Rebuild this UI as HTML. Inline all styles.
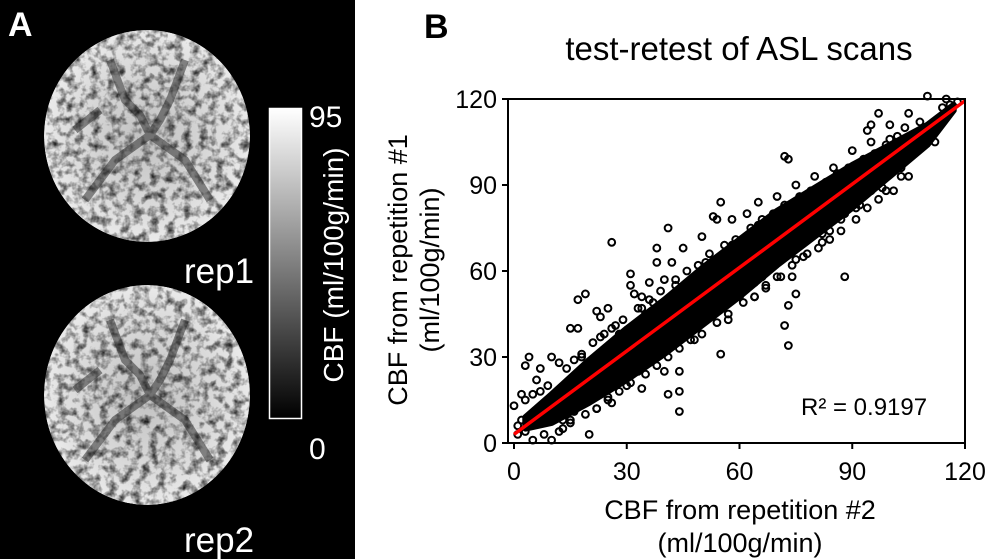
<!DOCTYPE html>
<html><head><meta charset="utf-8"><style>
body{margin:0;background:#fff;}
svg{display:block;font-family:"Liberation Sans",Arial,sans-serif;}
</style></head><body>
<svg id="fig" width="1000" height="559" viewBox="0 0 1000 559" xmlns="http://www.w3.org/2000/svg">
<defs>
<filter id="tex" x="0" y="0" width="100%" height="100%">
<feTurbulence type="fractalNoise" baseFrequency="0.12" numOctaves="3" seed="4"/>
<feColorMatrix type="matrix" values="0 0 0 0 0  0 0 0 0 0  0 0 0 0 0  0 0 0 -1.8 1.05"/>
</filter>
<linearGradient id="cbar" x1="0" y1="1" x2="0" y2="0"><stop offset="0" stop-color="#000"/><stop offset="1" stop-color="#fff"/></linearGradient>
<radialGradient id="brainG" cx="0.5" cy="0.5" r="0.55"><stop offset="0" stop-color="#c0c0c0"/><stop offset="0.7" stop-color="#dedede"/><stop offset="1" stop-color="#f0f0f0"/></radialGradient>
<clipPath id="c1"><ellipse cx="147" cy="136" rx="103" ry="106"/></clipPath>
<clipPath id="c2"><ellipse cx="147" cy="395" rx="103" ry="110"/></clipPath>
</defs>
<g>
<rect x="0" y="0" width="355" height="559" fill="#000"/>
<text x="8" y="36" font-size="34" font-weight="bold" fill="#fff">A</text>
<g clip-path="url(#c1)">
<ellipse cx="147" cy="136" rx="103" ry="106" fill="url(#brainG)"/>
<rect x="40" y="25" width="215" height="225" filter="url(#tex)"/>
<path d="M110 60 L125 100 L140 115 L150 135 M185 60 L170 100 L160 120 L150 135 M150 135 L115 160 L85 200 M150 135 L185 160 L210 200 M100 110 L75 130" stroke="#222" stroke-width="8" fill="none" opacity="0.5"/>
</g>
<g clip-path="url(#c2)">
<ellipse cx="147" cy="395" rx="103" ry="110" fill="url(#brainG)"/>
<rect x="40" y="280" width="215" height="230" filter="url(#tex)"/>
<path d="M110 320 L125 360 L140 375 L150 395 M185 320 L170 360 L160 380 L150 395 M150 395 L115 420 L85 460 M150 395 L185 420 L210 460 M100 370 L75 390" stroke="#222" stroke-width="8" fill="none" opacity="0.5"/>
</g>
<text x="184" y="283" font-size="35" fill="#fff">rep1</text>
<text x="184" y="552" font-size="35" fill="#fff">rep2</text>
<rect x="269.5" y="108.5" width="32" height="310" fill="url(#cbar)" stroke="#fff" stroke-width="1.5"/>
<text x="309" y="127" font-size="30" fill="#fff">95</text>
<text x="309" y="459" font-size="30" fill="#fff">0</text>
<text transform="translate(343,265) rotate(-90)" text-anchor="middle" font-size="28" fill="#fff">CBF (ml/100g/min)</text>
</g>
<g>
<text x="424" y="38" font-size="34" font-weight="bold" fill="#000">B</text>
<text x="739" y="60" text-anchor="middle" font-size="33" fill="#000">test-retest of ASL scans</text>
<g id="plot"></g>
<text transform="translate(407,270) rotate(-90)" text-anchor="middle" font-size="27">CBF from repetition #1</text>
<text transform="translate(439,270) rotate(-90)" text-anchor="middle" font-size="27">(ml/100g/min)</text>
<text x="740" y="519" text-anchor="middle" font-size="27">CBF from repetition #2</text>
<text x="740" y="552" text-anchor="middle" font-size="27">(ml/100g/min)</text>
<text x="801" y="415" font-size="24">R² = 0.9197</text>
</g>
</svg>
<script>
const xTicks=[0,30,60,90,120];
const yTicks=[0,30,60,90,120];
const bandX=[3,10,20,30,40,50,60,70,80,90,100,110,117];
const bandLow=[5,7,14,22,31,41,51,62,72,82,93,104,116];
const bandHigh=[9,17,29,40,50,61,71,81,89,97,104,111,118];
const ptsX=[26,41,19,17,15,17,4,10,3,7,55,53,54,72,73,88,74,75,73,72,73,55,44,41,44,20,10,110,97,95,100,112,103,103,99,81,48,44,40,34,25,13,8,2,0,1,5,64,60,78,94,105,116,118,36,38,40,31,31,32,34,23,22,25,12,12,7,5,3,2,6,9,15,13,30,33,26,28,48,52,57,64,67,70,75,84,86,91,95,97,100,107,65,62,58,50,45,42,38,70,75,80,85,90,95,100,107,62,48,20,18,28,22,35,45,55,85,88,92,68,78,29,10,6,8,104,108,114,115,82,66,57,47,37,27,16,4,1,3,
14,16,18,21,24,27,29,33,36,39,43,46,49,52,56,59,63,66,69,72,76,79,83,86,89,93,96,99,102,
12,15,19,22,25,28,31,35,38,41,44,47,50,54,57,61,64,67,71,74,77,81,84,87,91,94,97,101,105,
23,26,34,37,43,51,58,65,71,77,82,87,92,98];
const ptsY=[70,75,52,50,40,40,30,30,27,26,84,79,78,100,99,58,58,52,48,41,34,31,18,17,11,3,1,121,115,111,111,105,96,93,88,78,36,25,25,19,16,8,3,8,13,3,1,56,51,66,109,115,118,119,56,63,57,59,55,52,51,44,46,47,28,18,18,17,15,17,22,20,8,5,20,25,14,22,46,46,43,51,54,58,64,74,82,82,88,93,100,104,84,80,78,72,68,63,68,86,90,93,96,102,105,106,108,70,52,25,30,38,12,45,40,60,88,80,96,62,72,33,12,8,14,110,112,117,120,70,58,50,40,30,21,11,8,6,4,
26,29,31,35,38,41,43,47,50,53,57,60,62,66,69,71,75,78,80,83,86,88,91,94,96,99,101,104,107,
4,7,10,12,15,18,21,24,27,30,33,36,38,42,45,49,51,55,58,62,65,68,71,74,78,82,85,88,93,
37,40,47,49,55,63,69,76,81,85,73,78,83,89];
const slope=0.97, intercept=3;
const X0=514,X1=965,Y0=443,Y1=99;
const sx=v=>X0+(v-0)/120*(X1-X0);
const sy=v=>Y0-(v-0)/120*(Y0-Y1);
const NS='http://www.w3.org/2000/svg';
const plot=document.getElementById('plot');
function mk(t,a){const e=document.createElementNS(NS,t);for(const k in a)e.setAttribute(k,a[k]);plot.appendChild(e);return e;}
let d='M'+bandX.map((x,i)=>sx(x)+','+sy(bandLow[i])).join(' L');
for(let i=bandX.length-1;i>=0;i--)d+=' L'+sx(bandX[i])+','+sy(bandHigh[i]);
const band=mk('path',{d:d+'Z',fill:'#000',stroke:'#000','stroke-width':6,'stroke-linejoin':'round'});


ptsX.forEach((x,i)=>{
const c=mk('circle',{cx:sx(x),cy:sy(ptsY[i]),r:3.4,fill:'none',stroke:'#000','stroke-width':2});


});
const ln=mk('line',{x1:sx(0),y1:sy(intercept),x2:sx(120),y2:sy(intercept+slope*120),stroke:'#ff0000','stroke-width':3.5});


const box=mk('rect',{x:508,y:Y1,width:X1-508,height:Y0-Y1,fill:'none',stroke:'#000','stroke-width':2});


xTicks.forEach(v=>{
const t=mk('line',{x1:sx(v),y1:Y0,x2:sx(v),y2:Y0+6,stroke:'#000','stroke-width':2});


const l=mk('text',{x:sx(v),y:Y0+37,'text-anchor':'middle','font-size':25});
l.textContent=v;


});
yTicks.forEach(v=>{
const t=mk('line',{x1:502,y1:sy(v),x2:508,y2:sy(v),stroke:'#000','stroke-width':2});


const l=mk('text',{x:497,y:sy(v)+9,'text-anchor':'end','font-size':25});
l.textContent=v;


});
</script>
</body></html>
